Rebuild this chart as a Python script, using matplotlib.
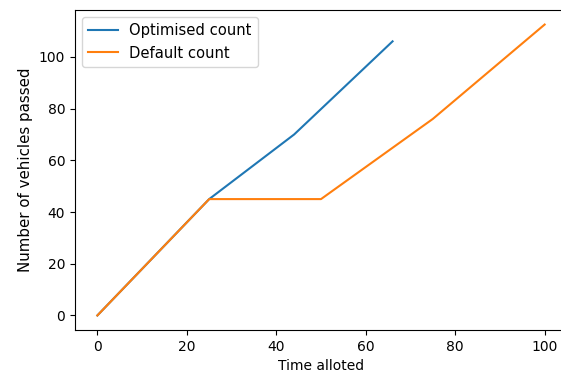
import matplotlib
matplotlib.use('Agg')
import matplotlib.pyplot as plt

# values
optimised_time = [0, 25, 44, 66]
optimised_count = [0, 45, 70, 106]

default_time = [0, 25, 50, 75, 100]
default_count = [0, 45, 45, 76, 112.5]

fig = plt.figure(figsize=(5.61, 3.76), dpi=100)
# the original screenshot crops the right spine, so the axes run past the edge
ax = fig.add_axes([75 / 561, 46 / 376, 492 / 561, 320 / 376])

ax.plot(optimised_time, optimised_count, label='Optimised count')
ax.plot(default_time, default_count, label='Default count')

ax.set_xlabel('Time alloted')
ax.set_ylabel('Number of vehicles passed', fontsize=10.8)
ax.legend(loc='upper left', fontsize=10.6)

fig.savefig('out.png', dpi=100, facecolor='white')
